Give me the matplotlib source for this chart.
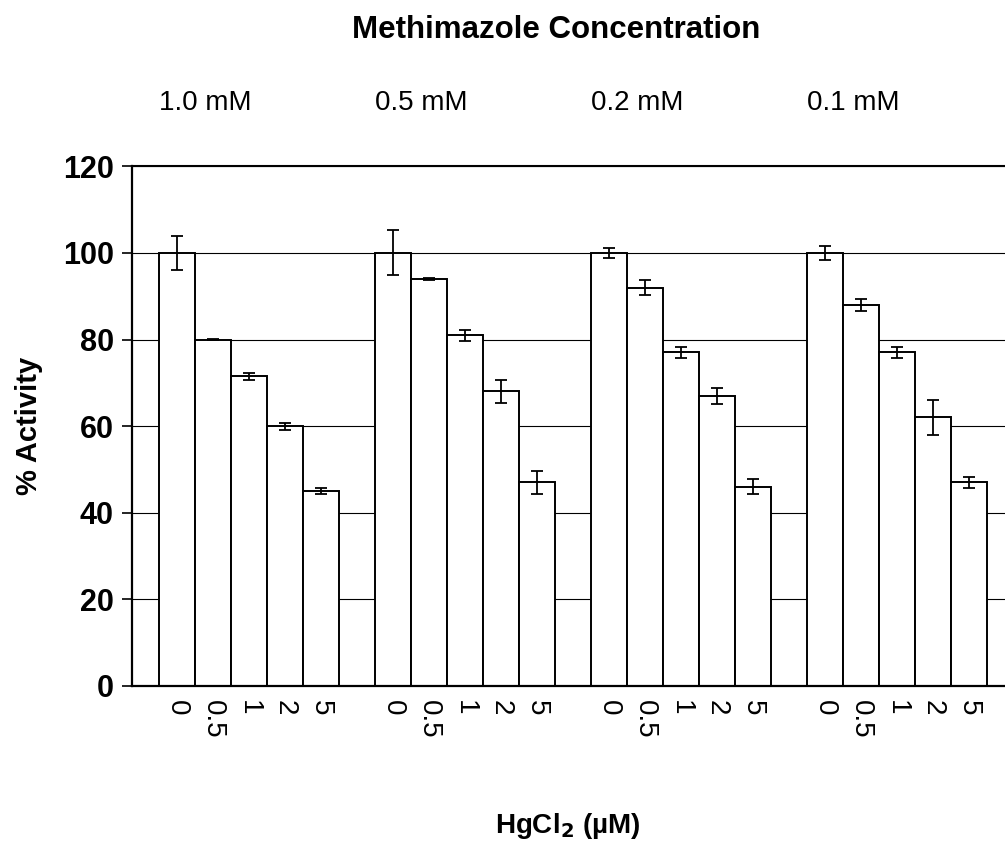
import numpy as np
import matplotlib.pyplot as plt

# Adatok
csoportok = ["1.0 mM", "0.5 mM", "0.2 mM", "0.1 mM"]
hgcl2 = ["0", "0.5", "1", "2", "5"]
aktivitas = [
    [100, 80, 71.5, 60, 45],
    [100, 94, 81, 68, 47],
    [100, 92, 77, 67, 46],
    [100, 88, 77, 62, 47],
]
hiba = [
    [4, 0.15, 0.8, 0.8, 0.8],
    [5.2, 0.3, 1.3, 2.6, 2.6],
    [1.1, 1.7, 1.3, 1.8, 1.8],
    [1.7, 1.4, 1.3, 4, 1.3],
]

plt.rcParams['font.family'] = ['Liberation Sans', 'DejaVu Sans']

fig = plt.figure(figsize=(10.05, 8.43), dpi=100)
ax = fig.add_axes([0.1313, 0.1866, 0.8687, 0.616])

# Oszlopok pozicioi: 5 oszlop, utana egy ures hely
n = len(hgcl2)
pos = []
cimkek = []
for g in range(len(csoportok)):
    for i in range(n):
        pos.append(g * (n + 1) + i)
        cimkek.append(hgcl2[i])
ertekek = np.array(aktivitas).flatten()
hibak = np.array(hiba).flatten()

ax.bar(pos, ertekek, width=1.0, color='white', edgecolor='black', linewidth=1.4,
       yerr=hibak, error_kw=dict(ecolor='black', elinewidth=1.3, capsize=4.5, capthick=1.3),
       zorder=2)
# ures helyek (nulla magassagu oszlopok)
ures = [g * (n + 1) + n for g in range(len(csoportok) - 1)]
ax.bar(ures, [0] * len(ures), width=1.0, color='white', edgecolor='black', linewidth=1.4, zorder=2)

ax.set_xlim(-1.25, 23.0)
ax.set_ylim(0, 120)
ax.set_yticks(range(0, 121, 20))
ax.yaxis.grid(True, color='black', linewidth=0.8)
ax.set_axisbelow(True)

ax.set_xticks(pos)
ax.set_xticklabels(cimkek, rotation=-90, fontsize=20)
ax.tick_params(axis='x', length=0, pad=10)
ax.tick_params(axis='y', direction='out', length=7, width=1.2, labelsize=22, pad=6)
for t in ax.get_yticklabels():
    t.set_fontweight('bold')

ax.spines['right'].set_visible(False)
ax.spines['top'].set_linewidth(1.5)
ax.spines['left'].set_linewidth(1.6)
ax.spines['bottom'].set_linewidth(1.6)

ax.set_ylabel("% Activity", fontsize=21, fontweight='bold', labelpad=14)

# Csoport feliratok
for g, c in enumerate(csoportok):
    ax.text(g * (n + 1) - 0.5, 134.7, c, fontsize=20, ha='left', va='center', clip_on=False)

fig.text(556 / 1005, 1 - 30 / 843, "Methimazole Concentration", fontsize=22.5,
         fontweight='bold', ha='center', va='center')
fig.text(568 / 1005, 1 - 826 / 843, "HgCl$_\\mathbf{2}$ (µM)", fontsize=20,
         fontweight='bold', ha='center', va='center')

fig.savefig("out.png", dpi=100)
